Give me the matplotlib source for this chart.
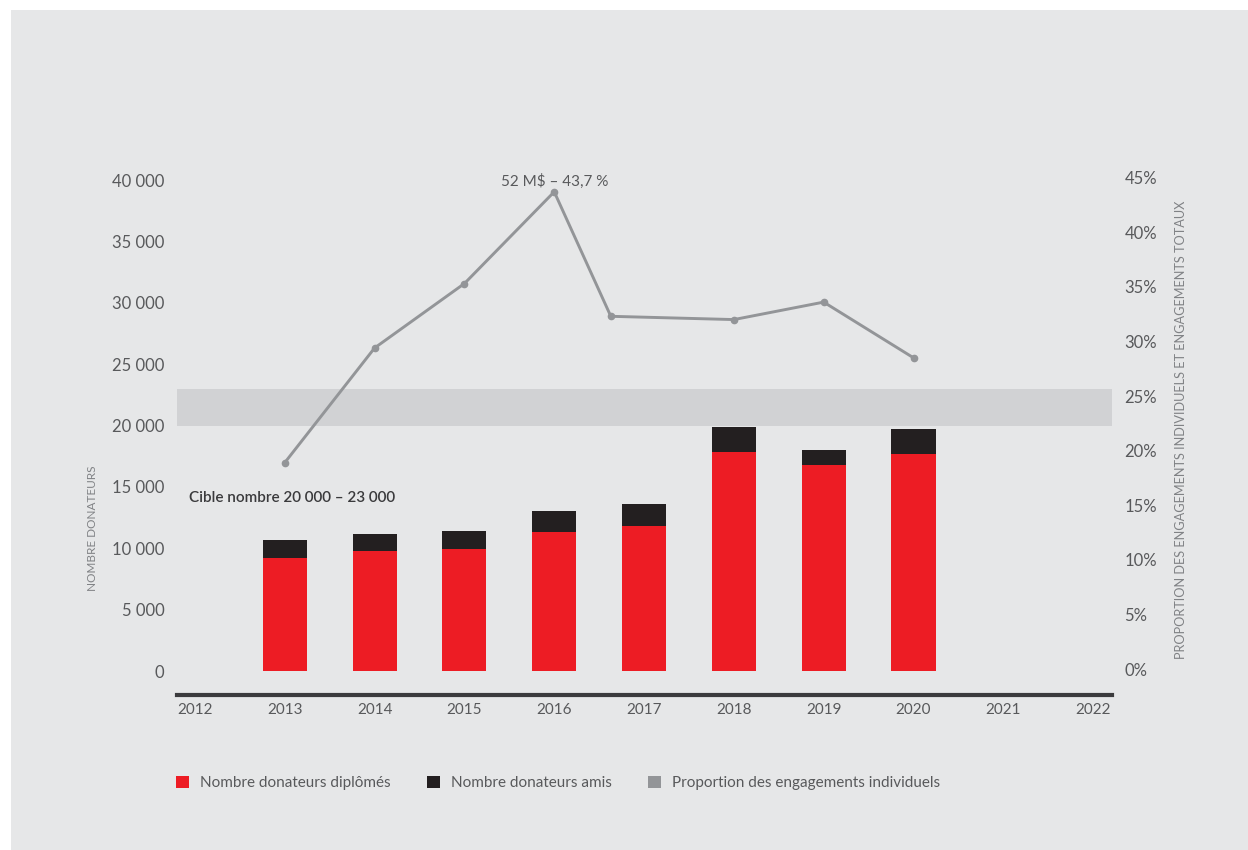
import matplotlib
matplotlib.use("Agg")
import matplotlib.pyplot as plt
from matplotlib.patches import Patch
from matplotlib.ticker import FuncFormatter, FixedLocator

plt.rcParams['font.family'] = ['Lato', 'DejaVu Sans']

# données
annees = [2013, 2014, 2015, 2016, 2017, 2018, 2019, 2020]
diplomes = [9200, 9800, 9950, 11300, 11800, 17850, 16800, 17700]
amis = [1500, 1400, 1450, 1700, 1800, 2050, 1200, 2000]
# le point 2017 de la courbe est décalé vers la gauche dans l'original
annees_courbe = [2013, 2014, 2015, 2016, 2016.63, 2018, 2019, 2020]
proportion = [18.9, 29.4, 35.3, 43.7, 32.3, 32.0, 33.6, 28.5]
annees_axe = list(range(2012, 2023))
cible = (20000, 23000)
ticks_gauche = [0, 5000, 10000, 15000, 20000, 25000, 30000, 35000, 40000]
ticks_droite = [0, 5, 10, 15, 20, 25, 30, 35, 40, 45]

ROUGE = '#ed1c24'
NOIR = '#231f20'
GRIS = '#939598'
BANDE = '#d1d2d4'
FOND = '#e6e7e8'
TEXTE = '#58595b'

W, H = 1248, 850
fig = plt.figure(figsize=(W / 100, H / 100), dpi=100, facecolor='white')
# panneau gris de fond
fig.patches.append(plt.Rectangle((11 / W, 0), 1 - 11 / W, 1 - 10 / H,
                                 transform=fig.transFigure, facecolor=FOND,
                                 edgecolor='none', zorder=-10))

ax = fig.add_axes([177 / W, 1 - 695 / H, (1112 - 177) / W, (695 - 175) / H])
ax.set_facecolor('none')

ax.axhspan(cible[0], cible[1], color=BANDE, zorder=0, lw=0)
ax.bar(annees, diplomes, width=0.49, color=ROUGE, zorder=2)
ax.bar(annees, amis, width=0.49, bottom=diplomes, color=NOIR, zorder=2)

ax.set_xlim(2011.80, 2022.21)
ax.set_ylim(-1956, 40424)
ax.xaxis.set_major_locator(FixedLocator(annees_axe))
ax.set_xticklabels([str(a) for a in annees_axe])
ax.yaxis.set_major_locator(FixedLocator(ticks_gauche))
ax.yaxis.set_major_formatter(FuncFormatter(lambda v, p: f"{int(v):,}".replace(",", " ")))

for s in ['top', 'left', 'right']:
    ax.spines[s].set_visible(False)
ax.spines['bottom'].set_color('#3b3b3d')
ax.spines['bottom'].set_linewidth(3)
ax.tick_params(axis='x', length=0, pad=6, labelsize=11, colors=TEXTE)
ax.tick_params(axis='y', length=0, pad=9, labelsize=12, colors=TEXTE)

ax.text(2011.93, 14100, "Cible nombre 20 000 – 23 000", fontsize=11,
        fontweight='semibold', color='#3a3a3c', va='center', ha='left', zorder=3)

ax2 = ax.twinx()
ax2.plot(annees_courbe, proportion, color=GRIS, lw=2.1, marker='o', ms=4.5, zorder=4)
ax2.set_ylim(-2.38, 45.24)
ax2.yaxis.set_major_locator(FixedLocator(ticks_droite))
ax2.yaxis.set_major_formatter(FuncFormatter(lambda v, p: f"{int(v)}%"))
for s in ['top', 'left', 'right', 'bottom']:
    ax2.spines[s].set_visible(False)
ax2.tick_params(axis='y', length=0, pad=9, labelsize=12, colors=TEXTE)

i_max = proportion.index(max(proportion))
ax2.annotate("52 M$ – 43,7 %", xy=(annees_courbe[i_max], proportion[i_max]),
             xytext=(0, 10), textcoords='offset pixels', ha='center', va='center',
             fontsize=11, color=TEXTE, parse_math=False)

fig.text(92 / W, 1 - 528 / H, "NOMBRE DONATEURS", rotation=90, ha='center',
         va='center', fontsize=8.5, color='#808285')
fig.text(1181 / W, 1 - 430 / H,
         "PROPORTION DES ENGAGEMENTS INDIVIDUELS ET ENGAGEMENTS TOTAUX",
         rotation=90, ha='center', va='center', fontsize=9.2, color='#808285')

handles = [Patch(facecolor=ROUGE), Patch(facecolor=NOIR), Patch(facecolor=GRIS)]
labels = ["Nombre donateurs diplômés", "Nombre donateurs amis",
          "Proportion des engagements individuels"]
fig.legend(handles, labels, loc='center left', bbox_to_anchor=(170 / W, 1 - 783 / H),
           ncol=3, frameon=False, fontsize=11, handlelength=0.85, handleheight=0.85,
           handletextpad=0.7, columnspacing=2.4, labelcolor=TEXTE, borderaxespad=0)

fig.savefig("out.png", dpi=100, facecolor='white')
